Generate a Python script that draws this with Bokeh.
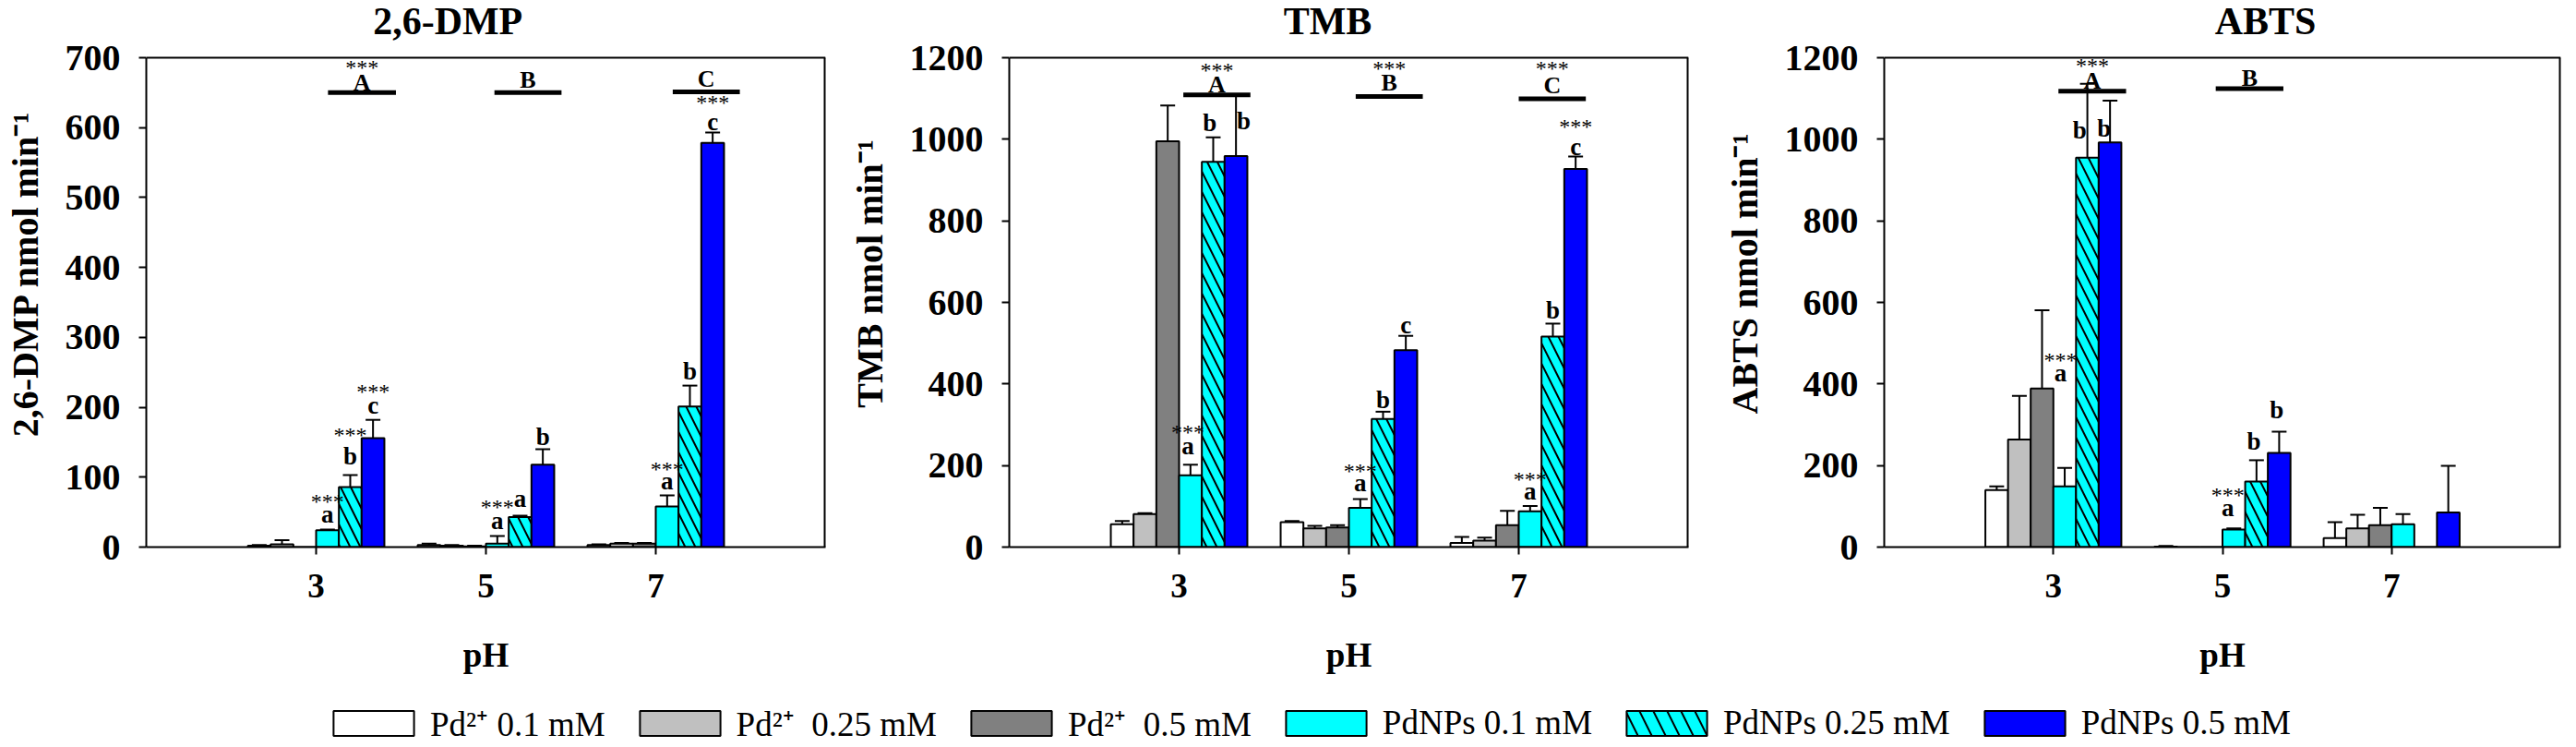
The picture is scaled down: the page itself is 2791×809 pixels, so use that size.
from bokeh.plotting import figure
from bokeh.models import (Range1d, FixedTicker, Whisker, TeeHead, ColumnDataSource,
                          Legend, LegendItem)
from bokeh.layouts import column, row
from bokeh.embed import file_html
from bokeh.resources import INLINE
from bokeh.core.properties import value

# ---------------- data ----------------
ph = [3, 5, 7]
series_labels = ["Pd\u00b2\u207a 0.1 mM", "Pd\u00b2\u207a\u00a0 0.25 mM", "Pd\u00b2\u207a\u00a0 0.5 mM",
                 "PdNPs 0.1 mM", "PdNPs 0.25 mM", "PdNPs 0.5 mM"]

# 2,6-DMP
dmp_pd01 = [2, 3, 3];      dmp_pd01_err = [1, 2, 1]
dmp_pd025 = [4, 2, 5];     dmp_pd025_err = [6, 1, 1]
dmp_pd05 = [0, 1, 5];      dmp_pd05_err = [0, 1, 1]
dmp_np01 = [24, 5, 58];    dmp_np01_err = [1, 11, 16]
dmp_np025 = [86, 43, 201]; dmp_np025_err = [17, 2, 30]
dmp_np05 = [156, 118, 578]; dmp_np05_err = [26, 22, 15]

# TMB
tmb_pd01 = [56, 61, 10];    tmb_pd01_err = [8, 3, 15]
tmb_pd025 = [81, 46, 16];   tmb_pd025_err = [2, 6, 7]
tmb_pd05 = [995, 48, 54];   tmb_pd05_err = [88, 6, 35]
tmb_np01 = [176, 96, 88];   tmb_np01_err = [26, 22, 13]
tmb_np025 = [945, 314, 516]; tmb_np025_err = [60, 18, 32]
tmb_np05 = [959, 483, 927]; tmb_np05_err = [150, 35, 31]

# ABTS
abts_pd01 = [140, 1, 22];    abts_pd01_err = [9, 2, 39]
abts_pd025 = [264, 0, 46];   abts_pd025_err = [107, 0, 33]
abts_pd05 = [389, 0, 54];    abts_pd05_err = [192, 0, 42]
abts_np01 = [149, 43, 56];   abts_np01_err = [45, 3, 25]
abts_np025 = [955, 161, 0];  abts_np025_err = [181, 52, 0]
abts_np05 = [992, 231, 85];  abts_np05_err = [103, 52, 114]

# annotation letters (group pH, bar index, text, y, x shift)
dmp_let_ph = [3, 3, 3, 5, 5, 5, 7, 7, 7]
dmp_let_bar = [3, 4, 5, 3, 4, 5, 3, 4, 5]
dmp_let_txt = ["a", "b", "c", "a", "a", "b", "a", "b", "c"]
dmp_let_y = [47, 130, 203, 37, 70, 158, 95, 251, 608]
dmp_let_dx = [0, 0, 0, 0, 0, 0, 0, 0, 0]
dmp_star_ph = [3, 3, 3, 5, 7, 7]
dmp_star_bar = [3, 4, 5, 3, 3, 5]
dmp_star_y = [65, 160, 222, 57, 112, 636]
dmp_star_dx = [0, 0, 0, 0, 0, 0]
dmp_sig_x0 = [3.14, 5.10, 7.20]
dmp_sig_x1 = [3.94, 5.89, 7.99]
dmp_sig_y = [650, 650, 651]
dmp_sig_txt = ["A", "B", "C"]
dmp_sig_txt_y = [665, 668, 670]
dmp_sig_star = [True, False, False]
dmp_sig_star_y = [686, 0, 0]

tmb_let_ph = [3, 3, 3, 5, 5, 5, 7, 7, 7]
tmb_let_bar = [3, 4, 5, 3, 4, 5, 3, 4, 5]
tmb_let_txt = ["a", "b", "b", "a", "b", "c", "a", "b", "c"]
tmb_let_y = [248, 1040, 1045, 157, 361, 544, 137, 580, 982]
tmb_let_dx = [-0.03, -0.04, 0.09, 0, 0, 0, 0, 0, 0]
tmb_star_ph = [3, 5, 7, 7]
tmb_star_bar = [3, 3, 3, 5]
tmb_star_y = [283, 187, 167, 1031]
tmb_star_dx = [-0.03, 0, 0, 0]
tmb_sig_x0 = [3.05, 5.08, 7.00]
tmb_sig_x1 = [3.84, 5.87, 7.79]
tmb_sig_y = [1109, 1105, 1099]
tmb_sig_txt = ["A", "B", "C"]
tmb_sig_txt_y = [1134, 1139, 1131]
tmb_sig_star = [True, True, True]
tmb_sig_star_y = [1170, 1175, 1175]

abts_let_ph = [3, 3, 3, 5, 5, 5]
abts_let_bar = [3, 4, 5, 3, 4, 5]
abts_let_txt = ["a", "b", "b", "a", "b", "b"]
abts_let_y = [427, 1023, 1026, 96, 260, 336]
abts_let_dx = [-0.05, -0.09, -0.07, -0.07, -0.03, -0.03]
abts_star_ph = [3, 5]
abts_star_bar = [3, 3]
abts_star_y = [459, 129]
abts_star_dx = [-0.05, -0.07]
abts_sig_x0 = [3.06, 4.92]
abts_sig_x1 = [3.86, 5.72]
abts_sig_y = [1118, 1124]
abts_sig_txt = ["A", "B"]
abts_sig_txt_y = [1144, 1151]
abts_sig_star = [True, False]
abts_sig_star_y = [1180, 0]

# ---------------- styles ----------------
FONT = "Liberation Serif"
fills = ["white", "#C0C0C0", "#808080", "#00FFFF", "#00FFFF", "#0000FF"]
hatches = [" ", " ", " ", " ", "\\", " "]
BAR_W = 0.268
FRAME_H = 530      # height of the boxed data area
TOP_PAD = 62       # room above the box for the panel title (kept inside the frame)
TITLE_GAP = 40     # px between the box top and the title anchor


def bar_x(p, i):
    return p + (i - 2.5) * BAR_W


def make_panel(vals, errs, ymax, ystep, ylabel, title, title_x, letters, stars, sig,
               mbl, mbr, fw):
    yend = ymax * (FRAME_H + TOP_PAD) / FRAME_H
    p = figure(frame_width=fw, frame_height=FRAME_H + TOP_PAD, min_border_left=mbl,
               min_border_right=mbr, min_border_top=0, min_border_bottom=150,
               x_range=Range1d(1, 9), y_range=Range1d(0, yend),
               output_backend="svg", toolbar_location=None)
    p.xgrid.visible = False
    p.ygrid.visible = False
    p.outline_line_color = None
    p.background_fill_color = "white"
    p.border_fill_color = "white"

    for ax in (p.xaxis[0], p.yaxis[0]):
        ax.axis_line_width = 2
        ax.major_tick_line_width = 2
        ax.major_tick_out = 8
        ax.major_tick_in = 0
        ax.minor_tick_out = 0
        ax.minor_tick_in = 0
        ax.major_label_text_font = FONT
        ax.major_label_text_font_style = "bold"
        ax.axis_label_text_font = FONT
        ax.axis_label_text_font_style = "bold"
        ax.major_label_text_color = "black"
        ax.axis_label_text_color = "black"
    p.yaxis.bounds = (0, ymax)
    p.xaxis.ticker = FixedTicker(ticks=ph)
    p.yaxis.ticker = FixedTicker(ticks=list(range(0, ymax + 1, ystep)))
    p.xaxis.major_label_text_font_size = "37px"
    p.yaxis.major_label_text_font_size = "40px"
    p.xaxis.major_label_standoff = 21
    p.yaxis.major_label_standoff = 20
    p.xaxis.axis_label = "pH"
    p.xaxis.axis_label_text_font_size = "37px"
    p.xaxis.axis_label_standoff = 39
    p.yaxis.axis_label = ylabel
    p.yaxis.axis_label_text_font_size = "40px"
    p.yaxis.axis_label_standoff = 18

    # top and right sides of the box
    p.segment(x0=[1], x1=[9], y0=[ymax], y1=[ymax], line_width=2, line_color="black")
    p.segment(x0=[9], x1=[9], y0=[0], y1=[ymax], line_width=4, line_color="black")

    for i in range(6):
        xs = [bar_x(g, i) for g in ph]
        p.vbar(x=xs, top=vals[i], width=BAR_W, fill_color=fills[i], line_color="black",
               line_width=2, hatch_pattern=hatches[i], hatch_color="black",
               hatch_scale=22, hatch_weight=2)
        wx, wl, wu = [], [], []
        for k in range(3):
            if errs[i][k] > 0:
                wx.append(xs[k]); wl.append(vals[i][k]); wu.append(vals[i][k] + errs[i][k])
        if wx:
            src = ColumnDataSource(dict(x=wx, lower=wl, upper=wu))
            p.add_layout(Whisker(source=src, base="x", lower="lower", upper="upper",
                                 line_width=2, line_color="black",
                                 upper_head=TeeHead(size=16, line_width=2, line_color="black"),
                                 lower_head=None))

    lph, lbar, ltxt, ly, ldx = letters
    p.text(x=[bar_x(a, b) + d for a, b, d in zip(lph, lbar, ldx)], y=ly, text=ltxt,
           text_font=value(FONT), text_font_style="bold", text_font_size="27px",
           text_align="center", text_baseline="middle", text_color="black")
    sph, sbar, sy, sdx = stars
    p.text(x=[bar_x(a, b) + d for a, b, d in zip(sph, sbar, sdx)], y=sy, text=["***"] * len(sy),
           text_font=value(FONT), text_font_size="24px",
           text_align="center", text_baseline="middle", text_color="black")

    x0, x1, sgy, stxt, stxty, sstar, sstary = sig
    p.segment(x0=x0, x1=x1, y0=sgy, y1=sgy, line_width=5, line_color="black", line_cap="butt")
    cx = [(a + b) / 2 for a, b in zip(x0, x1)]
    p.text(x=cx, y=stxty, text=stxt, text_font=value(FONT), text_font_style="bold",
           text_font_size="26px", text_align="center", text_baseline="middle",
           text_color="black")
    scx = [c for c, f in zip(cx, sstar) if f]
    scy = [yy for yy, f in zip(sstary, sstar) if f]
    if scx:
        p.text(x=scx, y=scy, text=["***"] * len(scx), text_font=value(FONT),
               text_font_size="24px", text_align="center", text_baseline="middle",
               text_color="black")

    # panel title, inside the upper pad of the frame
    p.text(x=[title_x], y=[ymax + TITLE_GAP * ymax / FRAME_H], text=[title], text_font=value(FONT),
           text_font_style="bold", text_font_size="42px", text_align="left",
           text_baseline="alphabetic", text_color="black")
    return p


p1 = make_panel([dmp_pd01, dmp_pd025, dmp_pd05, dmp_np01, dmp_np025, dmp_np05],
                [dmp_pd01_err, dmp_pd025_err, dmp_pd05_err, dmp_np01_err, dmp_np025_err, dmp_np05_err],
                700, 100, "2,6-DMP nmol min\u207b\u00b9", "2,6-DMP", 3.67,
                (dmp_let_ph, dmp_let_bar, dmp_let_txt, dmp_let_y, dmp_let_dx),
                (dmp_star_ph, dmp_star_bar, dmp_star_y, dmp_star_dx),
                (dmp_sig_x0, dmp_sig_x1, dmp_sig_y, dmp_sig_txt, dmp_sig_txt_y, dmp_sig_star, dmp_sig_star_y),
                158, 12, 736)
p2 = make_panel([tmb_pd01, tmb_pd025, tmb_pd05, tmb_np01, tmb_np025, tmb_np05],
                [tmb_pd01_err, tmb_pd025_err, tmb_pd05_err, tmb_np01_err, tmb_np025_err, tmb_np05_err],
                1200, 200, "TMB nmol min\u207b\u00b9", "TMB", 4.23,
                (tmb_let_ph, tmb_let_bar, tmb_let_txt, tmb_let_y, tmb_let_dx),
                (tmb_star_ph, tmb_star_bar, tmb_star_y, tmb_star_dx),
                (tmb_sig_x0, tmb_sig_x1, tmb_sig_y, tmb_sig_txt, tmb_sig_txt_y, tmb_sig_star, tmb_sig_star_y),
                187, 12, 736)
p3 = make_panel([abts_pd01, abts_pd025, abts_pd05, abts_np01, abts_np025, abts_np05],
                [abts_pd01_err, abts_pd025_err, abts_pd05_err, abts_np01_err, abts_np025_err, abts_np05_err],
                1200, 200, "ABTS nmol min\u207b\u00b9", "ABTS", 4.91,
                (abts_let_ph, abts_let_bar, abts_let_txt, abts_let_y, abts_let_dx),
                (abts_star_ph, abts_star_bar, abts_star_y, abts_star_dx),
                (abts_sig_x0, abts_sig_x1, abts_sig_y, abts_sig_txt, abts_sig_txt_y, abts_sig_star, abts_sig_star_y),
                200, 1, 733)

# legend strip
pl = figure(width=2775, height=66, min_border=0, x_range=Range1d(0, 1), y_range=Range1d(0, 1),
            output_backend="svg", toolbar_location=None,
            x_axis_location=None, y_axis_location=None)
pl.outline_line_color = None
pl.xgrid.visible = False
pl.ygrid.visible = False
items = []
for i in range(6):
    # hidden stand-in renderer; only its legend swatch is shown
    r = pl.vbar(x=[0.5], top=[1], width=0.1, fill_color=fills[i], line_color="black", line_width=2,
                hatch_pattern=hatches[i], hatch_color="black", hatch_scale=30, hatch_weight=2,
                visible=False)
    items.append(LegendItem(label=series_labels[i], renderers=[r]))
leg = Legend(items=items, orientation="horizontal", location=(350, 0),
             glyph_width=109, glyph_height=34, label_standoff=7, spacing=26,
             padding=0, margin=0, border_line_color=None, background_fill_alpha=0,
             inactive_fill_alpha=0, click_policy="none",
             label_text_font=FONT, label_text_font_size="37px", label_text_color="black")
pl.add_layout(leg)

layout = column(row(p1, p2, p3), pl)
open("out.html", "w").write(file_html(layout, INLINE))
